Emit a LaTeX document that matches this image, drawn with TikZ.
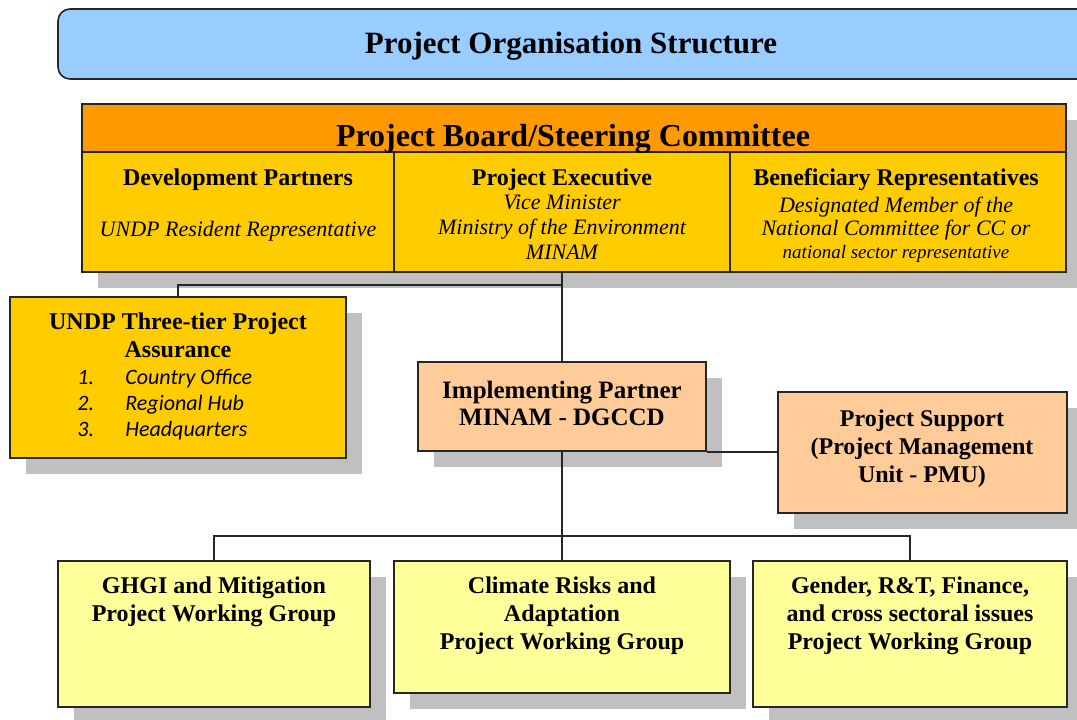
\documentclass[tikz,border=0pt]{standalone}
\usepackage{fontspec}
\setmainfont{Liberation Serif}
\newfontfamily\listfont{Carlito}
\usetikzlibrary{fit,shadows}
\definecolor{titleblue}{HTML}{99CCFF}
\definecolor{boardorange}{HTML}{FF9900}
\definecolor{cellgold}{HTML}{FFCC00}
\definecolor{partnerpeach}{HTML}{FFCC99}
\definecolor{groupyellow}{HTML}{FFFF99}
\definecolor{shadowgray}{HTML}{C0C0C0}
\begin{document}
\begin{tikzpicture}[x=0.5pt,y=-0.5pt,
		box/.style={draw=black!85,line width=0.8pt,inner sep=0pt},
		shadebox/.style={box,drop shadow={shadow xshift=8pt,shadow yshift=-8pt,fill=shadowgray,opacity=1}},
		head/.style={font=\bfseries\fontsize{12}{14}\selectfont,align=center,inner sep=0pt},
		sub/.style={font=\itshape\fontsize{11}{12.5}\selectfont,align=center,inner sep=0pt},
		link/.style={line width=0.75pt,black!85}]
	\useasboundingbox (0,0) rectangle (1077,719);
	% banner
	\node [box,rounded corners=6pt,fill=titleblue,fit={(58,9) (1095,79)}] (title) {};
	\node [font=\bfseries\fontsize{15.5}{18}\selectfont,anchor=base,inner sep=0pt] (titletext) at (571,53) {Project Organisation Structure};
	% board with its three seats
	\node [shadebox,fill=cellgold,fit={(82,104) (1066,272)}] (board) {};
	\node [box,fill=boardorange,fit={(82,104) (1066,152)}] (boardhead) {};
	\node [box,fill=cellgold,fit={(82,152) (394,272)}] (dev) {};
	\node [box,fill=cellgold,fit={(394,152) (730,272)}] (pexec) {};
	\node [box,fill=cellgold,fit={(730,152) (1066,272)}] (benef) {};
	\node [font=\bfseries\fontsize{16}{18}\selectfont,anchor=base,inner sep=0pt] (boardtext) at (573,146) {Project Board/Steering Committee};
	\node [head,anchor=base] (devtext) at (238,185) {Development Partners};
	\node [head,anchor=base] (pexectext) at (562,185) {Project Executive};
	\node [head,anchor=base] (beneftext) at (896,185) {Beneficiary Representatives};
	\node [sub,anchor=base] (devsub) at (238,236) {UNDP Resident Representative};
	\node [sub,anchor=north] (pexecsub) at (562,195) {Vice Minister\\Ministry of the Environment\\MINAM};
	\node [sub,anchor=north,font=\itshape\fontsize{11}{11.5}\selectfont] (benefsub) at (896,197) {Designated Member of the\\National Committee for CC or\\{\fontsize{9.5}{11.5}\selectfont national sector representative}};
	% assurance
	\node [shadebox,fill=cellgold,fit={(10,297) (346,458)}] (assur) {};
	\node [head,anchor=north] (assurtext) at (178,312) {UNDP Three-tier Project\\Assurance};
	\node [font=\listfont\itshape\fontsize{11}{13}\selectfont,align=left,anchor=north west,inner sep=0pt] (assurlist) at (77,369)
		{\makebox[24pt][l]{1.}Country Office\\\makebox[24pt][l]{2.}Regional Hub\\\makebox[24pt][l]{3.}Headquarters};
	% implementing partner and support unit
	\node [shadebox,fill=partnerpeach,fit={(418,362) (706,451)}] (ip) {};
	\node [head,anchor=north,font=\bfseries\fontsize{12.5}{13.5}\selectfont] (iptext) at (562,381) {Implementing Partner\\MINAM - DGCCD};
	\node [shadebox,fill=partnerpeach,fit={(778,392) (1067,513)}] (ps) {};
	\node [head,anchor=north] (pstext) at (922,409) {Project Support\\(Project Management\\Unit - PMU)};
	% working groups
	\node [shadebox,fill=groupyellow,fit={(58,561) (370,707)}] (pwg1) {};
	\node [shadebox,fill=groupyellow,fit={(394,561) (730,693)}] (pwg2) {};
	\node [shadebox,fill=groupyellow,fit={(753,561) (1067,707)}] (pwg3) {};
	\node [head,anchor=north] (pwg1text) at (214,576) {GHGI and Mitigation\\Project Working Group};
	\node [head,anchor=north] (pwg2text) at (562,576) {Climate Risks and\\Adaptation\\Project Working Group};
	\node [head,anchor=north] (pwg3text) at (910,576) {Gender, R\&T, Finance,\\and cross sectoral issues\\Project Working Group};
	% lines
	\coordinate (j1) at (562,285);
	\coordinate (j2) at (562,536);
	\draw [link] (pexec.south) -- (ip.north);
	\draw [link] (j1) -| (assur.north);
	\draw [link] (ip.south east) -- (ip.south east -| ps.west);
	\draw [link] (ip.south) -- (j2);
	\draw [link] (pwg1.north) |- (j2) -| (pwg3.north);
	\draw [link] (j2) -- (pwg2.north);
\end{tikzpicture}
\end{document}
